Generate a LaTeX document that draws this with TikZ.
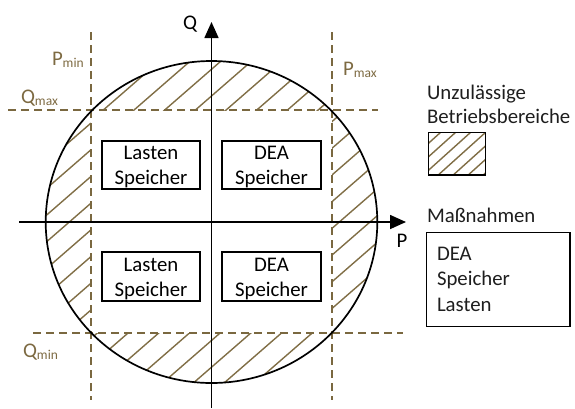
\documentclass[tikz,border=0pt]{standalone}
\usepackage{fontspec}
\setmainfont{Carlito}
\usetikzlibrary{arrows.meta}

\definecolor{limitbrown}{RGB}{122,104,64}
\definecolor{hatchbrown}{RGB}{128,110,70}
\definecolor{labelbrown}{RGB}{125,106,66}
\definecolor{legendtext}{RGB}{30,30,30}

% parallel hatch lines y + s*x = c0 + k*v, k = -n..n
\newcommand{\hatchfamily}[4]{%
  \foreach \k in {-#4,...,#4}{%
    \pgfmathsetmacro{\cc}{#1+#3*\k}%
    \pgfmathsetmacro{\ce}{\cc-#2*575}%
    \draw[hatch] (0,\cc) -- (575,\ce);
  }}

\begin{document}
\begin{tikzpicture}[x=1pt,y=-1pt,
  every node/.style={inner sep=0pt,outer sep=0pt},
  txt/.style={font=\fontsize{20.8}{25}\selectfont, text=legendtext},
  limtxt/.style={font=\fontsize{20.8}{25}\selectfont, text=labelbrown},
  limit/.style={draw=limitbrown, line width=2.2pt, dash pattern=on 8pt off 5pt},
  hatch/.style={draw=hatchbrown, line width=1.4pt},
  axis/.style={draw=black, line width=1.6pt, -{Triangle[length=16pt,width=14pt]}},
  qbox/.style={draw=black, line width=1.5pt, minimum width=98pt, minimum height=48pt},
  qtext/.style={txt, align=center},
]
\useasboundingbox (0,0) rectangle (575,408);

\newcommand{\subtxt}[1]{\raisebox{-2pt}{\fontsize{13.5}{14}\selectfont #1}}

% forbidden operating areas: circle outside the P/Q limits
\begin{scope}
  \clip (211.5,222) ellipse [x radius=165.8pt, y radius=161pt];
  \clip (0,0) rectangle (575,110);
  \hatchfamily{199.9}{0.87}{26.7}{20}
\end{scope}
\begin{scope}
  \clip (211.5,222) ellipse [x radius=165.8pt, y radius=161pt];
  \clip (0,333) rectangle (575,408);
  \hatchfamily{444.4}{0.87}{26.7}{20}
\end{scope}
\begin{scope}
  \clip (211.5,222) ellipse [x radius=165.8pt, y radius=161pt];
  \clip (0,110) rectangle (90.7,333);
  \hatchfamily{202.2}{0.87}{26.7}{20}
\end{scope}
\begin{scope}
  \clip (211.5,222) ellipse [x radius=165.8pt, y radius=161pt];
  \clip (332,110) rectangle (575,333);
  \hatchfamily{437.1}{0.87}{26.7}{20}
\end{scope}

% limit lines
\coordinate (pmin-top) at (90.7,32);  \coordinate (pmin-bot) at (90.7,400);
\coordinate (pmax-top) at (332,32);   \coordinate (pmax-bot) at (332,400);
\coordinate (qmax-l) at (8,110);      \coordinate (qmax-r) at (378,110);
\coordinate (qmin-l) at (33,333);     \coordinate (qmin-r) at (403,333);
\draw[limit] (pmin-top) -- (pmin-bot);
\draw[limit] (pmax-top) -- (pmax-bot);
\draw[limit] (qmax-l) -- (qmax-r);
\draw[limit] (qmin-l) -- (qmin-r);

\node[limtxt, anchor=base west] (pminlbl) at (52,65) {P\subtxt{min}};
\node[limtxt, anchor=base west] (pmaxlbl) at (343,75) {P\subtxt{max}};
\node[limtxt, anchor=base west] (qmaxlbl) at (21,103) {Q\subtxt{max}};
\node[limtxt, anchor=base west] (qminlbl) at (23,357) {Q\subtxt{min}};

% capability circle
\draw[line width=1.7pt] (211.5,222) ellipse [x radius=165.8pt, y radius=161pt];

% axes
\coordinate (p-start) at (19,222);   \coordinate (p-end) at (406,222);
\coordinate (q-start) at (211.5,408); \coordinate (q-end) at (211.5,22);
\draw[axis] (p-start) -- (p-end);
\draw[axis] (q-start) -- (q-end);
\node[txt, text=black, anchor=base west] (plbl) at (396.5,247) {P};
\node[txt, text=black, anchor=base west] (qlbl) at (183,29) {Q};

% measures per quadrant
\node[qbox] (ul) at (151,165) {};
\node[qbox, minimum width=99pt] (ur) at (271.5,165) {};
\node[qbox, minimum height=49pt] (ll) at (151,276.5) {};
\node[qbox, minimum width=99pt, minimum height=49pt] (lr) at (271.5,276.5) {};
\node[qtext, text=black] at ([yshift=-2pt]ul.center) {Lasten\\Speicher};
\node[qtext, text=black] at ([yshift=-2pt]ur.center) {DEA\\Speicher};
\node[qtext, text=black] at ([yshift=-2pt]ll.center) {Lasten\\Speicher};
\node[qtext, text=black] at ([yshift=-2pt]lr.center) {DEA\\Speicher};

% legend
\node[txt, anchor=base west] (leg1) at (427,99) {Unzulässige};
\node[txt, anchor=base west] (leg2) at (427,123) {Betriebsbereiche};
\begin{scope}
  \clip (428.3,132.3) rectangle (485.7,175);
  \hatchfamily{528.9}{0.9}{13.5}{8}
\end{scope}
\draw[line width=1.5pt] (428.3,132.3) rectangle (485.7,175);

\node[txt, anchor=base west] (legm) at (427,222) {Maßnahmen};
\node[draw=black, line width=1.5pt, minimum width=143.3pt, minimum height=94.4pt] (mbox) at (498.3,279.5) {};
\node[txt, anchor=base west] (m1) at (437,260) {DEA};
\node[txt, anchor=base west] (m2) at (437,285.5) {Speicher};
\node[txt, anchor=base west] (m3) at (437,311) {Lasten};
\end{tikzpicture}
\end{document}
